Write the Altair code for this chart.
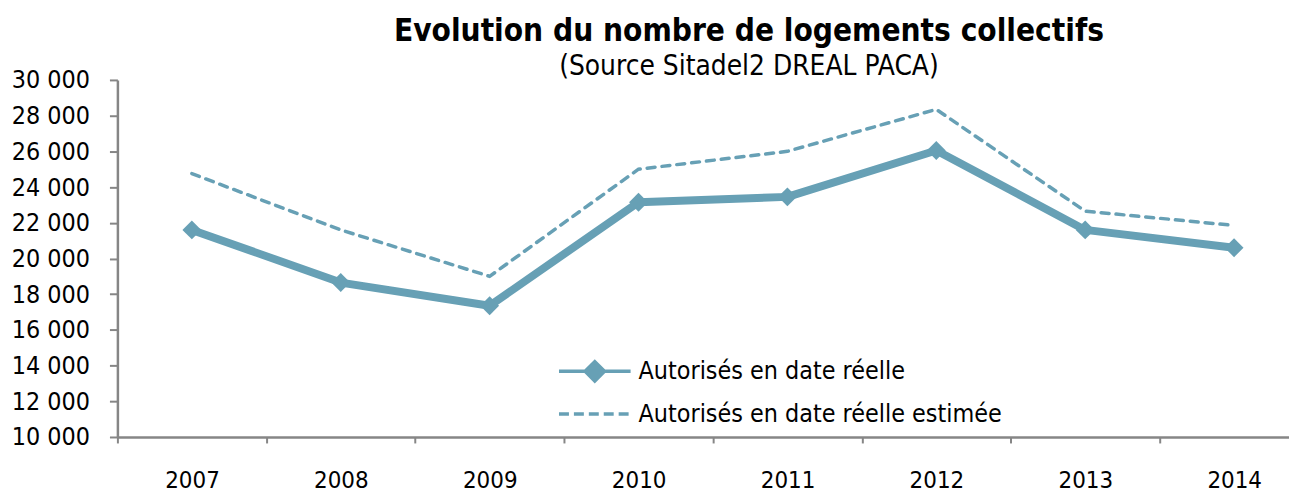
import altair as alt
import pandas as pd

years = [2007, 2008, 2009, 2010, 2011, 2012, 2013, 2014]
reel = [21600, 18650, 17350, 23150, 23450, 26050, 21600, 20600]
estime = [24750, 21600, 19000, 25000, 26000, 28350, 22650, 21850]
series_names = ["Autorisés en date réelle", "Autorisés en date réelle estimée"]
y_ticks = list(range(10000, 30001, 2000))
x_bounds = [y - 0.5 for y in years]

C = "#67A0B5"
AX = "#868686"
FONT = "DejaVu Sans Condensed"

df = pd.DataFrame(
    {"year": years * 2,
     "value": reel + estime,
     "series": [series_names[0]] * len(years) + [series_names[1]] * len(years)}
)

x = alt.X("year:Q",
          scale=alt.Scale(domain=[2006.5, 2014.369], nice=False, zero=False),
          axis=alt.Axis(values=x_bounds, labelExpr="'' + (floor(datum.value) + 1)",
                        labelOffset=75, tickSize=6, tickWidth=2, tickColor=AX,
                        domainColor=AX, domainWidth=2.5, grid=False, title=None,
                        labelFont=FONT, labelFontSize=24, labelColor="black",
                        labelPadding=26, labelFlush=False, labelOverlap=False, labelBound=False))
y = alt.Y("value:Q",
          scale=alt.Scale(domain=[10000, 30000], nice=False, zero=False),
          axis=alt.Axis(values=y_ticks, labelExpr="replace(format(datum.value, ',d'), ',', ' ')",
                        tickSize=8, tickWidth=2, tickColor=AX, domainColor=AX, domainWidth=2.5,
                        grid=False, title=None, labelFont=FONT, labelFontSize=25,
                        labelColor="black", labelPadding=20, labelOverlap=False))

base = alt.Chart(df)

legA = alt.Legend(orient="none", legendX=442, legendY=255, title=None, padding=0,
                  symbolType="M-1,0H1M0,-0.27L0.27,0L0,0.27L-0.27,0Z", symbolSize=5184,
                  symbolStrokeWidth=3.5, symbolFillColor=C, symbolStrokeColor=C,
                  labelFont=FONT, labelFontSize=25, labelColor="black", labelOffset=6,
                  labelLimit=0)
legB = alt.Legend(orient="none", legendX=442, legendY=298, title=None, padding=0,
                  symbolType="M-1,0H1", symbolSize=5184, symbolDash=[10, 5],
                  symbolStrokeWidth=3.5, symbolStrokeColor=C,
                  labelFont=FONT, labelFontSize=25, labelColor="black", labelOffset=6,
                  labelLimit=0)

solid = base.transform_filter(alt.datum.series == series_names[0]).mark_line(
    strokeWidth=8, strokeJoin="round").encode(
    x=x, y=y,
    color=alt.Color("series:N", scale=alt.Scale(domain=[series_names[0]], range=[C]), legend=legA))
pts = base.transform_filter(alt.datum.series == series_names[0]).mark_point(
    shape="diamond", filled=True, size=360, opacity=1).encode(x=x, y=y, color=alt.value(C))
dashed = base.transform_filter(alt.datum.series == series_names[1]).mark_line(
    strokeWidth=3.5, strokeDash=[8, 7], strokeCap="round").encode(
    x=x, y=y,
    color=alt.Color("series:N", scale=alt.Scale(domain=[series_names[1]], range=[C]), legend=legB))

chart = alt.layer(solid, pts, dashed).resolve_scale(color="independent").properties(
    width=1178, height=359,
    autosize=alt.AutoSizeParams(type="none"),
    padding={"left": 110, "top": 71, "right": 0, "bottom": 56},
    background="white",
    title=alt.TitleParams(
        text="Evolution du nombre de logements collectifs",
        subtitle="(Source Sitadel2 DREAL PACA)",
        anchor="middle", frame="group", dx=46, offset=-13,
        font=FONT, fontSize=31.5, fontWeight="bold", color="black",
        subtitleFont=FONT, subtitleFontSize=28, subtitleColor="black", subtitlePadding=6),
).configure_view(stroke=None)

chart.save("out.html", embed_options={"renderer": "svg", "actions": False})
